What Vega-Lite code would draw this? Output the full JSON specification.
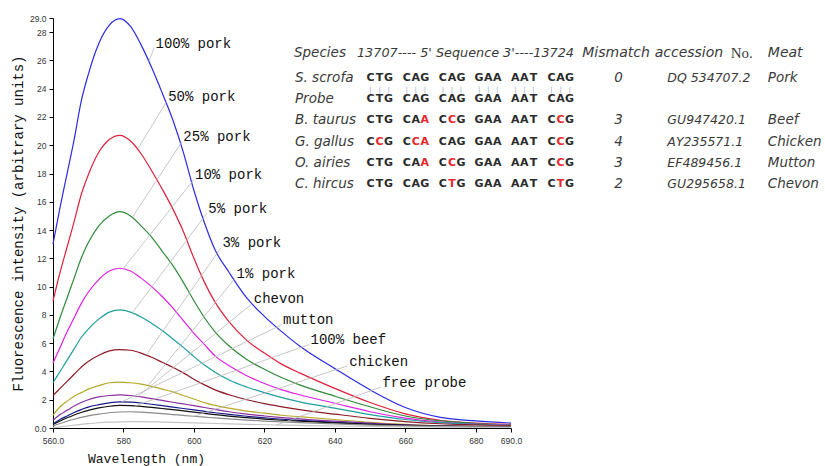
{
  "$schema": "https://vega.github.io/schema/vega-lite/v6.json",
  "width": 458,
  "height": 410,
  "autosize": {"type": "none"},
  "padding": {"left": 53, "top": 18, "right": 314, "bottom": 38},
  "background": "white",
  "config": {"view": {"stroke": null}},
  "datasets": {
    "spectra": [
      {"x":560,"p100":13.0,"p50":9.0,"p25":6.3,"p10":4.6,"p5":3.2,"p3":2.3,"p1":0.9,"chev":0.55,"mutt":0.3,"beef":0.25,"chick":0.15,"probe":0.02},
      {"x":562,"p100":15.6,"p50":11.0,"p25":7.8,"p10":5.7,"p5":4.0,"p3":2.8,"p1":1.5,"chev":0.95,"mutt":0.6,"beef":0.5,"chick":0.32,"probe":0.08},
      {"x":564,"p100":18.0,"p50":12.8,"p25":9.2,"p10":6.8,"p5":4.8,"p3":3.3,"p1":1.9,"chev":1.25,"mutt":0.85,"beef":0.72,"chick":0.48,"probe":0.14},
      {"x":566,"p100":20.4,"p50":14.6,"p25":10.6,"p10":7.8,"p5":5.6,"p3":3.8,"p1":2.25,"chev":1.55,"mutt":1.1,"beef":0.92,"chick":0.62,"probe":0.2},
      {"x":568,"p100":23.1,"p50":16.5,"p25":12.0,"p10":8.8,"p5":6.4,"p3":4.3,"p1":2.5,"chev":1.8,"mutt":1.3,"beef":1.1,"chick":0.75,"probe":0.26},
      {"x":570,"p100":25.0,"p50":17.9,"p25":13.1,"p10":9.6,"p5":7.0,"p3":4.7,"p1":2.75,"chev":2.0,"mutt":1.48,"beef":1.25,"chick":0.86,"probe":0.31},
      {"x":573,"p100":27.2,"p50":19.5,"p25":14.3,"p10":10.5,"p5":7.7,"p3":5.15,"p1":3.0,"chev":2.2,"mutt":1.65,"beef":1.42,"chick":0.98,"probe":0.37},
      {"x":576,"p100":28.5,"p50":20.4,"p25":15.0,"p10":11.1,"p5":8.2,"p3":5.45,"p1":3.2,"chev":2.3,"mutt":1.78,"beef":1.54,"chick":1.08,"probe":0.41},
      {"x":579,"p100":28.95,"p50":20.7,"p25":15.3,"p10":11.3,"p5":8.35,"p3":5.55,"p1":3.25,"chev":2.35,"mutt":1.85,"beef":1.6,"chick":1.13,"probe":0.44},
      {"x":582,"p100":28.4,"p50":20.3,"p25":15.0,"p10":11.1,"p5":8.2,"p3":5.5,"p1":3.2,"chev":2.3,"mutt":1.83,"beef":1.58,"chick":1.15,"probe":0.45},
      {"x":585,"p100":27.1,"p50":19.4,"p25":14.3,"p10":10.6,"p5":7.85,"p3":5.3,"p1":3.1,"chev":2.2,"mutt":1.77,"beef":1.53,"chick":1.12,"probe":0.45},
      {"x":588,"p100":25.5,"p50":18.2,"p25":13.5,"p10":10.0,"p5":7.4,"p3":5.0,"p1":2.95,"chev":2.08,"mutt":1.68,"beef":1.46,"chick":1.07,"probe":0.44},
      {"x":591,"p100":23.7,"p50":16.9,"p25":12.5,"p10":9.3,"p5":6.9,"p3":4.65,"p1":2.75,"chev":1.95,"mutt":1.58,"beef":1.38,"chick":1.01,"probe":0.42},
      {"x":594,"p100":21.8,"p50":15.5,"p25":11.5,"p10":8.5,"p5":6.3,"p3":4.3,"p1":2.55,"chev":1.82,"mutt":1.48,"beef":1.3,"chick":0.95,"probe":0.4},
      {"x":597,"p100":19.5,"p50":13.9,"p25":10.3,"p10":7.6,"p5":5.7,"p3":3.9,"p1":2.3,"chev":1.7,"mutt":1.38,"beef":1.21,"chick":0.89,"probe":0.38},
      {"x":600,"p100":16.8,"p50":12.0,"p25":9.0,"p10":6.7,"p5":5.05,"p3":3.45,"p1":2.05,"chev":1.58,"mutt":1.28,"beef":1.12,"chick":0.83,"probe":0.36},
      {"x":603,"p100":14.5,"p50":10.3,"p25":7.8,"p10":5.9,"p5":4.45,"p3":3.05,"p1":1.8,"chev":1.45,"mutt":1.18,"beef":1.03,"chick":0.77,"probe":0.34},
      {"x":606,"p100":12.6,"p50":8.9,"p25":6.8,"p10":5.1,"p5":3.95,"p3":2.7,"p1":1.6,"chev":1.32,"mutt":1.08,"beef":0.94,"chick":0.71,"probe":0.32},
      {"x":610,"p100":11.0,"p50":7.5,"p25":5.8,"p10":4.4,"p5":3.4,"p3":2.35,"p1":1.4,"chev":1.15,"mutt":0.96,"beef":0.84,"chick":0.64,"probe":0.29},
      {"x":615,"p100":9.2,"p50":6.2,"p25":4.85,"p10":3.7,"p5":2.9,"p3":2.0,"p1":1.2,"chev":0.98,"mutt":0.83,"beef":0.73,"chick":0.56,"probe":0.26},
      {"x":620,"p100":7.9,"p50":5.3,"p25":4.15,"p10":3.15,"p5":2.5,"p3":1.72,"p1":1.05,"chev":0.85,"mutt":0.72,"beef":0.63,"chick":0.49,"probe":0.23},
      {"x":625,"p100":6.8,"p50":4.5,"p25":3.55,"p10":2.7,"p5":2.15,"p3":1.5,"p1":0.9,"chev":0.74,"mutt":0.62,"beef":0.55,"chick":0.43,"probe":0.2},
      {"x":630,"p100":5.8,"p50":3.9,"p25":3.05,"p10":2.35,"p5":1.85,"p3":1.3,"p1":0.8,"chev":0.64,"mutt":0.54,"beef":0.48,"chick":0.38,"probe":0.18},
      {"x":640,"p100":4.2,"p50":2.8,"p25":2.25,"p10":1.75,"p5":1.4,"p3":0.98,"p1":0.6,"chev":0.48,"mutt":0.4,"beef":0.36,"chick":0.29,"probe":0.14},
      {"x":650,"p100":2.7,"p50":1.8,"p25":1.5,"p10":1.15,"p5":0.95,"p3":0.68,"p1":0.4,"chev":0.34,"mutt":0.28,"beef":0.26,"chick":0.21,"probe":0.11},
      {"x":660,"p100":1.45,"p50":1.0,"p25":0.85,"p10":0.7,"p5":0.6,"p3":0.45,"p1":0.25,"chev":0.22,"mutt":0.18,"beef":0.18,"chick":0.15,"probe":0.08},
      {"x":670,"p100":0.75,"p50":0.55,"p25":0.5,"p10":0.42,"p5":0.38,"p3":0.3,"p1":0.15,"chev":0.15,"mutt":0.12,"beef":0.13,"chick":0.11,"probe":0.06},
      {"x":680,"p100":0.5,"p50":0.35,"p25":0.32,"p10":0.28,"p5":0.26,"p3":0.22,"p1":0.12,"chev":0.12,"mutt":0.1,"beef":0.1,"chick":0.09,"probe":0.05},
      {"x":690,"p100":0.35,"p50":0.25,"p25":0.22,"p10":0.2,"p5":0.18,"p3":0.15,"p1":0.1,"chev":0.1,"mutt":0.08,"beef":0.08,"chick":0.07,"probe":0.05}
    ],
    "leaders": [
      {"x":588.7,"y":26.9,"x2":587.2,"y2":25.9},
      {"x":592.3,"y":23.1,"x2":584.2,"y2":19.8},
      {"x":596.6,"y":20.25,"x2":582.5,"y2":14.9},
      {"x":599.9,"y":17.55,"x2":580.0,"y2":11.3},
      {"x":603.7,"y":15.2,"x2":582.5,"y2":8.15},
      {"x":607.7,"y":12.76,"x2":586.4,"y2":5.15},
      {"x":611.7,"y":10.6,"x2":587.0,"y2":3.0},
      {"x":616.6,"y":8.8,"x2":584.0,"y2":2.23},
      {"x":624.9,"y":7.3,"x2":579.5,"y2":1.85},
      {"x":632.7,"y":5.9,"x2":583.3,"y2":1.56},
      {"x":643.7,"y":4.4,"x2":600.0,"y2":0.83},
      {"x":653.1,"y":2.9,"x2":623.5,"y2":0.21}
    ],
    "labels": [
      {"t":"100% pork","x":589.1,"y":27.18},
      {"t":"50% pork","x":592.7,"y":23.42},
      {"t":"25% pork","x":597.0,"y":20.55},
      {"t":"10% pork","x":600.3,"y":17.86},
      {"t":"5% pork","x":604.1,"y":15.5},
      {"t":"3% pork","x":608.1,"y":13.06},
      {"t":"1% pork","x":612.1,"y":10.89},
      {"t":"chevon","x":617.0,"y":9.09},
      {"t":"mutton","x":625.3,"y":7.62},
      {"t":"100% beef","x":633.1,"y":6.21},
      {"t":"chicken","x":644.1,"y":4.67},
      {"t":"free probe","x":653.5,"y":3.18}
    ],
    "seq": [
      {"r":1,"L":["C","T","G","C","A","G","C","A","G","G","A","A","A","A","T","C","A","G"],"i":[0,1,2,4,5,6,8,9,10,12,13,14,16,17,18,20,21,22],"m":[0,0,0,0,0,0,0,0,0,0,0,0,0,0,0,0,0,0]},
      {"r":2,"L":["C","T","G","C","A","G","C","A","G","G","A","A","A","A","T","C","A","G"],"i":[0,1,2,4,5,6,8,9,10,12,13,14,16,17,18,20,21,22],"m":[0,0,0,0,0,0,0,0,0,0,0,0,0,0,0,0,0,0]},
      {"r":3,"L":["C","T","G","C","A","A","C","C","G","G","A","A","A","A","T","C","C","G"],"i":[0,1,2,4,5,6,8,9,10,12,13,14,16,17,18,20,21,22],"m":[0,0,0,0,0,1,0,1,0,0,0,0,0,0,0,0,1,0]},
      {"r":4,"L":["C","C","G","C","C","A","C","A","G","G","A","A","A","A","T","C","C","G"],"i":[0,1,2,4,5,6,8,9,10,12,13,14,16,17,18,20,21,22],"m":[0,1,0,0,1,1,0,0,0,0,0,0,0,0,0,0,1,0]},
      {"r":5,"L":["C","T","G","C","A","A","C","C","G","G","A","A","A","A","T","C","C","G"],"i":[0,1,2,4,5,6,8,9,10,12,13,14,16,17,18,20,21,22],"m":[0,0,0,0,0,1,0,1,0,0,0,0,0,0,0,0,1,0]},
      {"r":6,"L":["C","T","G","C","A","G","C","T","G","G","A","A","A","A","T","C","T","G"],"i":[0,1,2,4,5,6,8,9,10,12,13,14,16,17,18,20,21,22],"m":[0,0,0,0,0,0,0,1,0,0,0,0,0,0,0,0,1,0]}
    ],
    "table": [
      {"r":1,"sp":"S. scrofa","mm":"0","acc":"DQ 534707.2","meat":"Pork"},
      {"r":2,"sp":"Probe","mm":"","acc":"","meat":""},
      {"r":3,"sp":"B. taurus","mm":"3","acc":"GU947420.1","meat":"Beef"},
      {"r":4,"sp":"G. gallus","mm":"4","acc":"AY235571.1","meat":"Chicken"},
      {"r":5,"sp":"O. airies","mm":"3","acc":"EF489456.1","meat":"Mutton"},
      {"r":6,"sp":"C. hircus","mm":"2","acc":"GU295658.1","meat":"Chevon"}
    ]
  },
  "layer": [
    {
      "layer": [
        {
          "data": {"name": "spectra"},
          "transform": [{"fold": ["p100","p50","p25","p10","p5","p3","p1","chev","mutt","beef","chick","probe"], "as": ["s", "v"]}],
          "mark": {"type": "line", "strokeWidth": 1.2, "interpolate": "monotone"},
          "encoding": {
            "x": {
              "field": "x", "type": "quantitative",
              "scale": {"domain": [560, 690], "nice": false, "zero": false},
              "axis": {
                "values": [560, 580, 600, 620, 640, 660, 680, 690],
                "labelExpr": "datum.value==560?'560.0':datum.value==690?'690.0':datum.label",
                "title": "Wavelength (nm)",
                "titleX": 93, "titleY": 30, "titleAlign": "center", "titleBaseline": "middle",
                "titleFont": "Liberation Mono", "titleFontSize": 13, "titleFontWeight": "normal", "titleColor": "#111",
                "labelFont": "Liberation Sans", "labelFontSize": 8.5, "labelColor": "#333", "labelPadding": 4,
                "tickSize": 4, "tickColor": "#000", "domainColor": "#000", "grid": false,
                "labelOverlap": false, "labelFlush": false, "labelBound": false
              }
            },
            "y": {
              "field": "v", "type": "quantitative",
              "scale": {"domain": [0, 29], "nice": false, "zero": false},
              "axis": {
                "values": [0, 2, 4, 6, 8, 10, 12, 14, 16, 18, 20, 22, 24, 26, 28, 29],
                "labelExpr": "datum.value==0?'0.0':datum.value==29?'29.0':datum.label",
                "title": "Fluorescence intensity (arbitrary units)",
                "titleX": -35, "titleY": 205, "titleAlign": "center", "titleBaseline": "middle",
                "titleFont": "Liberation Mono", "titleFontSize": 14, "titleFontWeight": "normal", "titleColor": "#111",
                "labelFont": "Liberation Sans", "labelFontSize": 8.5, "labelColor": "#333", "labelPadding": 3,
                "tickSize": 4, "tickColor": "#000", "domainColor": "#000", "grid": false,
                "labelOverlap": false, "labelFlush": false, "labelBound": false
              }
            },
            "color": {
              "field": "s", "type": "nominal", "legend": null,
              "scale": {
                "domain": ["p100","p50","p25","p10","p5","p3","p1","chev","mutt","beef","chick","probe"],
                "range": ["#2b2be6","#e0203a","#2e8b3a","#e020e0","#1f9e9e","#8b1c28","#b5a82a","#8a2ea0","#1a1a8a","#111111","#8a8a8a","#c4c4c4"]
              }
            },
            "detail": {"field": "s"},
            "order": {"field": "x", "type": "quantitative"}
          }
        },
        {
          "data": {"name": "leaders"},
          "mark": {"type": "rule", "color": "#b8b8b8", "strokeWidth": 0.8},
          "encoding": {
            "x": {
              "field": "x", "type": "quantitative",
              "axis": {
                "values": [560, 580, 600, 620, 640, 660, 680, 690],
                "labelExpr": "datum.value==560?'560.0':datum.value==690?'690.0':datum.label",
                "title": "Wavelength (nm)",
                "titleX": 93, "titleY": 30, "titleAlign": "center", "titleBaseline": "middle",
                "titleFont": "Liberation Mono", "titleFontSize": 13, "titleFontWeight": "normal", "titleColor": "#111",
                "labelFont": "Liberation Sans", "labelFontSize": 8.5, "labelColor": "#333", "labelPadding": 4,
                "tickSize": 4, "tickColor": "#000", "domainColor": "#000", "grid": false,
                "labelOverlap": false, "labelFlush": false, "labelBound": false
              }
            },
            "y": {
              "field": "y", "type": "quantitative",
              "axis": {
                "values": [0, 2, 4, 6, 8, 10, 12, 14, 16, 18, 20, 22, 24, 26, 28, 29],
                "labelExpr": "datum.value==0?'0.0':datum.value==29?'29.0':datum.label",
                "title": "Fluorescence intensity (arbitrary units)",
                "titleX": -35, "titleY": 205, "titleAlign": "center", "titleBaseline": "middle",
                "titleFont": "Liberation Mono", "titleFontSize": 14, "titleFontWeight": "normal", "titleColor": "#111",
                "labelFont": "Liberation Sans", "labelFontSize": 8.5, "labelColor": "#333", "labelPadding": 3,
                "tickSize": 4, "tickColor": "#000", "domainColor": "#000", "grid": false,
                "labelOverlap": false, "labelFlush": false, "labelBound": false
              }
            },
            "x2": {"field": "x2"},
            "y2": {"field": "y2"}
          }
        },
        {
          "data": {"name": "labels"},
          "mark": {"type": "text", "align": "left", "baseline": "middle", "font": "Liberation Mono", "fontSize": 14, "color": "#111"},
          "encoding": {
            "x": {
              "field": "x", "type": "quantitative",
              "axis": {
                "values": [560, 580, 600, 620, 640, 660, 680, 690],
                "labelExpr": "datum.value==560?'560.0':datum.value==690?'690.0':datum.label",
                "title": "Wavelength (nm)",
                "titleX": 93, "titleY": 30, "titleAlign": "center", "titleBaseline": "middle",
                "titleFont": "Liberation Mono", "titleFontSize": 13, "titleFontWeight": "normal", "titleColor": "#111",
                "labelFont": "Liberation Sans", "labelFontSize": 8.5, "labelColor": "#333", "labelPadding": 4,
                "tickSize": 4, "tickColor": "#000", "domainColor": "#000", "grid": false,
                "labelOverlap": false, "labelFlush": false, "labelBound": false
              }
            },
            "y": {
              "field": "y", "type": "quantitative",
              "axis": {
                "values": [0, 2, 4, 6, 8, 10, 12, 14, 16, 18, 20, 22, 24, 26, 28, 29],
                "labelExpr": "datum.value==0?'0.0':datum.value==29?'29.0':datum.label",
                "title": "Fluorescence intensity (arbitrary units)",
                "titleX": -35, "titleY": 205, "titleAlign": "center", "titleBaseline": "middle",
                "titleFont": "Liberation Mono", "titleFontSize": 14, "titleFontWeight": "normal", "titleColor": "#111",
                "labelFont": "Liberation Sans", "labelFontSize": 8.5, "labelColor": "#333", "labelPadding": 3,
                "tickSize": 4, "tickColor": "#000", "domainColor": "#000", "grid": false,
                "labelOverlap": false, "labelFlush": false, "labelBound": false
              }
            },
            "text": {"field": "t"}
          }
        }
      ]
    },
    {
      "layer": [
        {
          "data": {"name": "seq"},
          "transform": [{"flatten": ["L", "i", "m"]}, {"filter": "datum.m == 0"}],
          "mark": {"type": "text", "align": "center", "dx": 4.5, "baseline": "middle", "font": "DejaVu Sans", "fontWeight": "bold", "fontSize": 11, "color": "#2a2a2a"},
          "encoding": {
            "x": {"field": "i", "type": "quantitative", "scale": {"domain": [0, 10], "range": [313, 403.5], "nice": false, "zero": false}, "axis": null},
            "y": {"field": "r", "type": "quantitative", "scale": {"domain": [0, 6], "range": [39, 165.8], "nice": false, "zero": false}, "axis": null},
            "text": {"field": "L"}
          }
        },
        {
          "data": {"name": "seq"},
          "transform": [{"flatten": ["L", "i", "m"]}, {"filter": "datum.m == 1"}],
          "mark": {"type": "text", "align": "center", "dx": 4.5, "baseline": "middle", "font": "DejaVu Sans", "fontWeight": "bold", "fontSize": 11, "color": "#e8262b"},
          "encoding": {
            "x": {"field": "i", "type": "quantitative", "axis": null},
            "y": {"field": "r", "type": "quantitative", "axis": null},
            "text": {"field": "L"}
          }
        },
        {
          "data": {"name": "seq"},
          "transform": [{"flatten": ["L", "i", "m"]}, {"filter": "datum.r == 1"}],
          "mark": {"type": "text", "align": "center", "dx": 4.5, "dy": 1, "baseline": "middle", "font": "DejaVu Sans", "fontSize": 7, "color": "#98a6c8", "text": "|"},
          "encoding": {
            "x": {"field": "i", "type": "quantitative", "axis": null},
            "y": {"datum": 1.5, "type": "quantitative", "axis": null}
          }
        },
        {
          "data": {"name": "table"},
          "mark": {"type": "text", "align": "left", "baseline": "middle", "font": "DejaVu Sans", "fontStyle": "italic", "fontSize": 13.5, "color": "#3a3a3a"},
          "encoding": {
            "x": {"datum": -7.85, "type": "quantitative", "axis": null},
            "y": {"field": "r", "type": "quantitative", "axis": null},
            "text": {"field": "sp"}
          }
        },
        {
          "data": {"name": "table"},
          "mark": {"type": "text", "align": "center", "baseline": "middle", "font": "DejaVu Sans", "fontStyle": "italic", "fontSize": 13.5, "color": "#3a3a3a"},
          "encoding": {
            "x": {"datum": 27.9, "type": "quantitative", "axis": null},
            "y": {"field": "r", "type": "quantitative", "axis": null},
            "text": {"field": "mm"}
          }
        },
        {
          "data": {"name": "table"},
          "mark": {"type": "text", "align": "left", "baseline": "middle", "font": "DejaVu Sans", "fontStyle": "italic", "fontSize": 12.5, "color": "#3a3a3a"},
          "encoding": {
            "x": {"datum": 33.3, "type": "quantitative", "axis": null},
            "y": {"field": "r", "type": "quantitative", "axis": null},
            "text": {"field": "acc"}
          }
        },
        {
          "data": {"name": "table"},
          "mark": {"type": "text", "align": "left", "baseline": "middle", "font": "DejaVu Sans", "fontStyle": "italic", "fontSize": 13.5, "color": "#3a3a3a"},
          "encoding": {
            "x": {"datum": 44.4, "type": "quantitative", "axis": null},
            "y": {"field": "r", "type": "quantitative", "axis": null},
            "text": {"field": "meat"}
          }
        },
        {
          "data": {"values": [{"t": "Species"}]},
          "mark": {"type": "text", "align": "left", "baseline": "middle", "font": "DejaVu Sans", "fontStyle": "italic", "fontSize": 13.5, "color": "#3a3a3a"},
          "encoding": {
            "x": {"datum": -7.96, "type": "quantitative", "axis": null},
            "y": {"datum": -0.2, "type": "quantitative", "axis": null},
            "text": {"field": "t"}
          }
        },
        {
          "data": {"values": [{"t": "13707---- 5' Sequence 3'----13724"}]},
          "mark": {"type": "text", "align": "left", "baseline": "middle", "font": "DejaVu Sans", "fontStyle": "italic", "fontSize": 12.8, "color": "#3a3a3a"},
          "encoding": {
            "x": {"datum": -1.0, "type": "quantitative", "axis": null},
            "y": {"datum": -0.2, "type": "quantitative", "axis": null},
            "text": {"field": "t"}
          }
        },
        {
          "data": {"values": [{"t": "Mismatch"}]},
          "mark": {"type": "text", "align": "left", "baseline": "middle", "font": "DejaVu Sans", "fontStyle": "italic", "fontSize": 14, "color": "#3a3a3a"},
          "encoding": {
            "x": {"datum": 23.9, "type": "quantitative", "axis": null},
            "y": {"datum": -0.2, "type": "quantitative", "axis": null},
            "text": {"field": "t"}
          }
        },
        {
          "data": {"values": [{"t": "accession"}]},
          "mark": {"type": "text", "align": "left", "baseline": "middle", "font": "DejaVu Sans", "fontStyle": "italic", "fontSize": 14, "color": "#3a3a3a"},
          "encoding": {
            "x": {"datum": 31.9, "type": "quantitative", "axis": null},
            "y": {"datum": -0.2, "type": "quantitative", "axis": null},
            "text": {"field": "t"}
          }
        },
        {
          "data": {"values": [{"t": "No."}]},
          "mark": {"type": "text", "align": "left", "baseline": "middle", "font": "Liberation Serif", "fontSize": 15, "color": "#3a3a3a"},
          "encoding": {
            "x": {"datum": 40.3, "type": "quantitative", "axis": null},
            "y": {"datum": -0.2, "type": "quantitative", "axis": null},
            "text": {"field": "t"}
          }
        },
        {
          "data": {"values": [{"t": "Meat"}]},
          "mark": {"type": "text", "align": "left", "baseline": "middle", "font": "DejaVu Sans", "fontStyle": "italic", "fontSize": 14, "color": "#3a3a3a"},
          "encoding": {
            "x": {"datum": 44.4, "type": "quantitative", "axis": null},
            "y": {"datum": -0.2, "type": "quantitative", "axis": null},
            "text": {"field": "t"}
          }
        }
      ]
    }
  ],
  "resolve": {"scale": {"x": "independent", "y": "independent"}}
}
